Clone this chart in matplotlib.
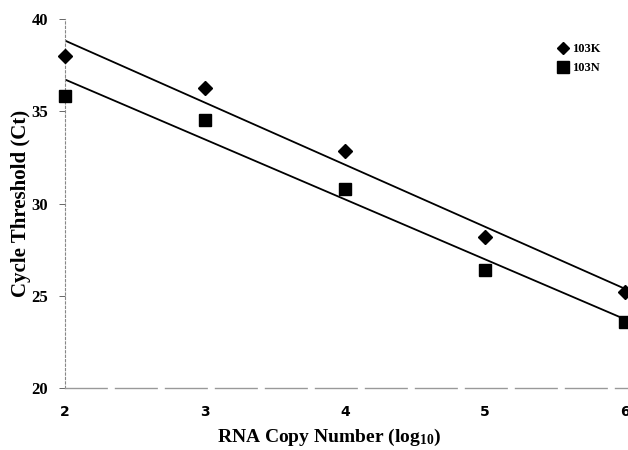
import numpy as np
import matplotlib
matplotlib.use("Agg")
import matplotlib.pyplot as plt

log_copies = [2, 3, 4, 5, 6]
ct_103K = [38.0, 36.25, 32.85, 28.2, 25.2]
ct_103N = [35.8, 34.5, 30.8, 26.4, 23.6]
x_ticks = [2, 3, 4, 5, 6]
y_ticks = [20, 25, 30, 35, 40]

plt.rcParams['font.family'] = ['Liberation Serif', 'DejaVu Serif']
plt.rcParams['font.weight'] = 'bold'
plt.rcParams['mathtext.fontset'] = 'custom'
plt.rcParams['mathtext.rm'] = 'Liberation Serif:bold'
plt.rcParams['mathtext.bf'] = 'Liberation Serif:bold'
plt.rcParams['mathtext.it'] = 'Liberation Serif:bold'

fig = plt.figure(figsize=(6.28, 4.5), dpi=100)
ax = fig.add_axes([65/628, 1-388/450, 1-65/628 - 0.001, (388-19)/450])

xs = np.array(log_copies, dtype=float)
for ys in (ct_103K, ct_103N):
    m, b = np.polyfit(xs, ys, 1)
    xx = np.array([2, 6.02])
    ax.plot(xx, m*xx + b, color='black', lw=1.3, zorder=2, clip_on=True)

ax.plot(log_copies, ct_103K, linestyle='none', marker='D', ms=7, color='black',
        label='103K', zorder=3, clip_on=False)
ax.plot(log_copies, ct_103N, linestyle='none', marker='s', ms=9, color='black',
        label='103N', zorder=3, clip_on=False)

ax.set_xlim(2, 6.015)
ax.set_ylim(20, 40)
ax.set_xticks(x_ticks)
ax.set_yticks(y_ticks)
ax.set_xticklabels([str(v) for v in x_ticks], fontsize=10, fontweight='bold', family='DejaVu Sans')
ax.set_yticklabels([str(v) for v in y_ticks], fontsize=12, fontweight='bold')

for s in ('top', 'right'):
    ax.spines[s].set_visible(False)
ax.spines['left'].set_color('#888888')
ax.spines['left'].set_linestyle((0, (2, 2)))
ax.spines['left'].set_linewidth(0.8)
ax.spines['bottom'].set_color('#999999')
ax.spines['bottom'].set_linestyle((0, (30, 6)))
ax.spines['bottom'].set_linewidth(1.0)

ax.tick_params(axis='y', length=4, width=0.7, color='#666666', pad=8)
ax.tick_params(axis='x', length=0, pad=12)

ax.set_ylabel('Cycle Threshold (Ct)', fontsize=15, fontweight='bold')
ax.yaxis.set_label_coords(-0.060, 0.5)
ax.set_xlabel('RNA Copy Number (log$_{\\mathrm{10}}$)', fontsize=14, fontweight='bold')
ax.xaxis.set_label_coords(0.47, -0.105)

leg = ax.legend(loc='upper right', bbox_to_anchor=(0.965, 0.955), frameon=False,
                fontsize=9, handlelength=0.8, handletextpad=0.3, labelspacing=0.55,
                borderaxespad=0.2, markerscale=0.9)
for t in leg.get_texts():
    t.set_fontweight('bold')

fig.savefig('out.png', dpi=100)
